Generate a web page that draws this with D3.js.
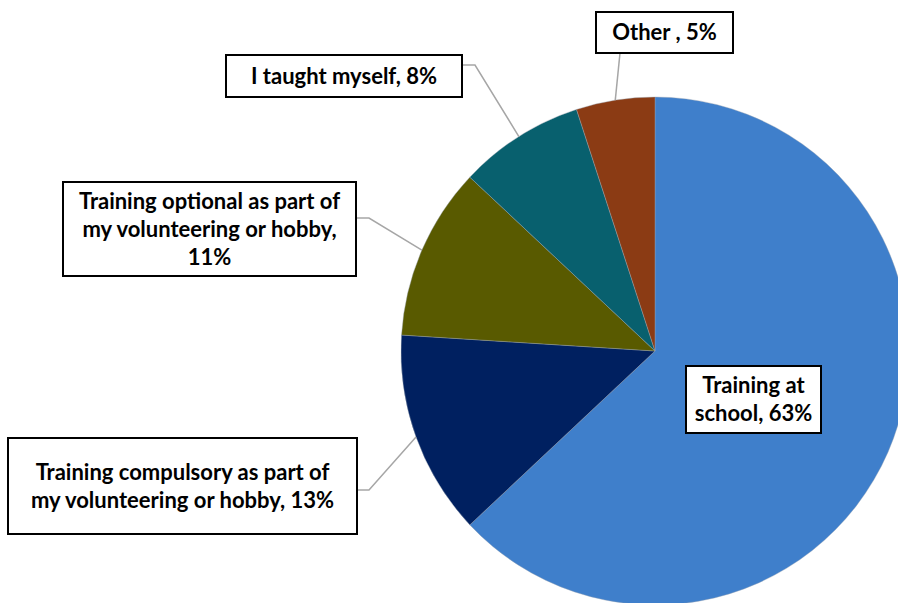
<!DOCTYPE html>
<html>
<head>
<meta charset="utf-8">
<script src="https://cdn.jsdelivr.net/npm/d3@7"></script>
<style>
  body { margin: 0; background: #fff; }
  svg { display: block; }
</style>
</head>
<body>
<div id="chart"></div>
<script>
const categories = [
	"Training at school",
	"Training compulsory as part of my volunteering or hobby",
	"Training optional as part of my volunteering or hobby",
	"I taught myself",
	"Other "
];
const values = [63, 13, 11, 8, 5];
const colors = ["#3F7FCB", "#002060", "#595A00", "#08606E", "#8B3B14"];

// label box layout (lines of text, box rect, leader knee)
const labelLayout = [
	{lines: ["Training at", "school, 63%"], x: 686, y: 366, w: 135, h: 67, leader: null},
	{lines: ["Training compulsory as part of", "my volunteering or hobby, 13%"], x: 8, y: 438, w: 349, h: 96, leader: {x: 357, y: 490, kx: 369}},
	{lines: ["Training optional as part of", "my volunteering or hobby,", "11%"], x: 63, y: 182, w: 293, h: 94, leader: {x: 356, y: 218, kx: 369}},
	{lines: ["I taught myself, 8%"], x: 226, y: 55, w: 236, h: 42, leader: {x: 462, y: 65, kx: 475}},
	{lines: ["Other , 5%"], x: 596, y: 12, w: 137, h: 41, leader: {x: 620, y: 53, kx: null}}
];

const width = 898, height = 603;
const cx = 655, cy = 351, radius = 254;

const svg = d3.select("#chart")
	.append("svg")
	.attr("width", width)
	.attr("height", height);

const pie = d3.pie().sort(null).value(d => d);
const arcs = pie(values);
const arc = d3.arc().innerRadius(0).outerRadius(radius);

const g = svg.append("g").attr("transform", `translate(${cx},${cy})`);

g.selectAll("path")
	.data(arcs).enter()
	.append("path")
	.attr("d", arc)
	.attr("fill", (d, i) => colors[i])
	.attr("stroke", "#9aa5b0")
	.attr("stroke-width", 0.4);

// leader lines
arcs.forEach((d, i) => {
	const L = labelLayout[i].leader;
	if (!L) return;
	const a = (d.startAngle + d.endAngle) / 2;
	const ex = cx + radius * Math.sin(a);
	const ey = cy - radius * Math.cos(a);
	const pts = [[L.x, L.y]];
	if (L.kx != null) pts.push([L.kx, L.y]);
	pts.push([ex, ey]);
	svg.append("path")
		.attr("d", d3.line()(pts))
		.attr("fill", "none")
		.attr("stroke", "#A6A6A6")
		.attr("stroke-width", 1.5);
});

// label boxes
const lineH = 28;
labelLayout.forEach((lb, i) => {
	const box = svg.append("g");
	box.append("rect")
		.attr("x", lb.x).attr("y", lb.y)
		.attr("width", lb.w).attr("height", lb.h)
		.attr("fill", "#fff")
		.attr("stroke", "#000")
		.attr("stroke-width", 2);
	const n = lb.lines.length;
	const top = lb.y + lb.h / 2 - (n * lineH) / 2;
	box.selectAll("text")
		.data(lb.lines).enter()
		.append("text")
		.attr("x", lb.x + lb.w / 2)
		.attr("y", (d, j) => top + j * lineH + lineH / 2)
		.attr("dy", "0.35em")
		.attr("text-anchor", "middle")
		.attr("font-family", "Lato, 'Open Sans', sans-serif")
		.attr("font-weight", "bold")
		.attr("font-size", 22)
		.attr("fill", "#000")
		.text(d => d);
});
</script>
</body>
</html>
